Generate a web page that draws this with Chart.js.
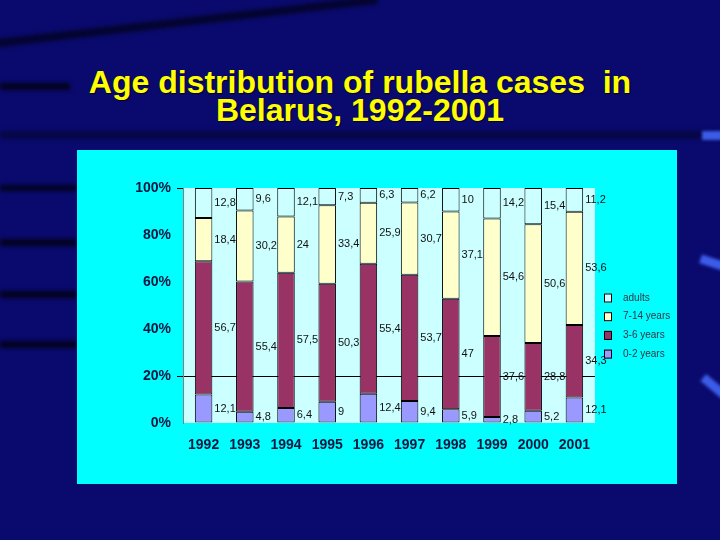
<!DOCTYPE html>
<html>
<head>
<meta charset="utf-8">
<script src="https://cdn.jsdelivr.net/npm/chart.js@4"></script>
<style>
  html, body { margin: 0; padding: 0; }
  body { width: 720px; height: 540px; background: #0a0a6e; position: relative; overflow: hidden; font-family: "Liberation Sans", Arial, sans-serif; }
  .stripe { position: absolute; background: #02021e; filter: blur(2px); }
  .blob { position: absolute; background: #3b5ce8; filter: blur(1.5px); }
  #title { position: absolute; left: 0; top: 68px; width: 720px; text-align: center; color: #ffff00; font-weight: bold; font-size: 32px; line-height: 28px; text-shadow: 1px 1px 1px #000030; }
  #panel { position: absolute; left: 77px; top: 150px; width: 600px; height: 334px; background: #00ffff; }
</style>
</head>
<body>
<div class="stripe" style="left:-10px; top:40px; width:390px; height:8px; transform: rotate(-6.5deg); transform-origin: left center; opacity:0.8"></div>
<div class="stripe" style="left:0; top:83px; width:70px; height:7px;"></div>
<div class="stripe" style="left:0; top:131px; width:720px; height:8px; opacity:0.5"></div>
<div class="stripe" style="left:0; top:185px; width:77px; height:6px;"></div>
<div class="stripe" style="left:0; top:239px; width:77px; height:7px;"></div>
<div class="stripe" style="left:0; top:291px; width:77px; height:7px;"></div>
<div class="stripe" style="left:0; top:341px; width:77px; height:7px;"></div>
<div class="blob" style="left:702px; top:131px; width:20px; height:9px;"></div>
<div class="blob" style="left:700px; top:258px; width:24px; height:9px; transform: rotate(18deg);"></div>
<div class="blob" style="left:700px; top:382px; width:28px; height:9px; transform: rotate(40deg);"></div>
<div id="title">Age distribution of rubella cases&nbsp; in<br>Belarus, 1992-2001</div>
<div id="panel"><canvas id="c" width="600" height="334"></canvas></div>
<script>
// ---- data ----
const categories = ['1992','1993','1994','1995','1996','1997','1998','1999','2000','2001'];
const seriesNames = ['0-2 years','3-6 years','7-14 years','adults'];
const age0to2   = [12.1, 4.8, 6.4, 9, 12.4, 9.4, 5.9, 2.8, 5.2, 12.1];
const age3to6   = [56.7, 55.4, 57.5, 50.3, 55.4, 53.7, 47, 37.6, 28.8, 34.3];
const age7to14  = [18.4, 30.2, 24, 33.4, 25.9, 30.7, 37.1, 54.6, 50.6, 53.6];
const adults    = [12.8, 9.6, 12.1, 7.3, 6.3, 6.2, 10, 14.2, 15.4, 11.2];
const yTickValues = [0, 20, 40, 60, 80, 100];

const rawSeries = [age0to2, age3to6, age7to14, adults];
const colors = ['#9999ff', '#993366', '#ffffcc', '#ccffff'];

// 100% stacked: each year's shares
const totals = categories.map((_, j) => rawSeries.reduce((s, arr) => s + arr[j], 0));
const pct = arr => arr.map((v, j) => v / totals[j] * 100);

const fmt = v => String(v).replace('.', ',');
const FONT = '"Liberation Sans", Arial, sans-serif';

const plotBg = {
  id: 'plotBg',
  beforeDraw(chart) {
    const { ctx, chartArea: a } = chart;
    ctx.save();
    ctx.fillStyle = '#ccffff';
    ctx.fillRect(a.left, a.top, a.right - a.left, a.bottom - a.top);
    ctx.restore();
  }
};

const valueLabels = {
  id: 'valueLabels',
  afterDatasetsDraw(chart) {
    const ctx = chart.ctx;
    ctx.save();
    ctx.font = '11px ' + FONT;
    ctx.fillStyle = '#111111';
    ctx.textAlign = 'left';
    ctx.textBaseline = 'middle';
    chart.data.datasets.forEach((ds, i) => {
      const meta = chart.getDatasetMeta(i);
      meta.data.forEach((bar, j) => {
        const p = bar.getProps(['x', 'y', 'base', 'width'], true);
        ctx.fillText(fmt(ds.rawValues[j]), p.x + p.width / 2 + 2, (p.y + p.base) / 2);
      });
    });
    ctx.restore();
  }
};

const sideLegend = {
  id: 'sideLegend',
  afterDraw(chart) {
    const { ctx, chartArea: a } = chart;
    const ds = chart.data.datasets.slice().reverse();
    ctx.save();
    ctx.font = '10px ' + FONT;
    ctx.textAlign = 'left';
    ctx.textBaseline = 'middle';
    ds.forEach((d, k) => {
      const cy = a.top + 110 + k * 18.7;
      const bx = a.right + 9;
      ctx.fillStyle = d.backgroundColor;
      ctx.fillRect(bx, cy - 4.5, 8, 9);
      ctx.strokeStyle = '#000';
      ctx.lineWidth = 1;
      ctx.strokeRect(bx + 0.5, cy - 4, 7, 8);
      ctx.fillStyle = '#333344';
      ctx.fillText(d.label, a.right + 28, cy);
    });
    ctx.restore();
  }
};

new Chart(document.getElementById('c'), {
  type: 'bar',
  data: {
    labels: categories,
    datasets: rawSeries.map((arr, i) => ({
      label: seriesNames[i],
      data: pct(arr),
      rawValues: arr,
      backgroundColor: colors[i],
      borderColor: '#000000',
      borderWidth: 1,
      borderSkipped: false,
      barPercentage: 0.85,
      categoryPercentage: 0.5
    }))
  },
  options: {
    responsive: false,
    animation: false,
    devicePixelRatio: 1,
    layout: { padding: { left: 46, right: 82, top: 38, bottom: 21 } },
    plugins: { legend: { display: false }, tooltip: { enabled: false }, title: { display: false } },
    scales: {
      x: {
        stacked: true,
        grid: { display: false, drawTicks: false },
        border: { display: false },
        ticks: { color: '#0b1640', font: { family: FONT, size: 14, weight: 'bold' }, padding: 14, maxRotation: 0 },
        afterFit: s => { s.height = 40; }
      },
      y: {
        stacked: true,
        min: 0,
        max: 100,
        afterBuildTicks: s => { s.ticks = yTickValues.map(v => ({ value: v })); },
        ticks: { color: '#0b1640', font: { family: FONT, size: 14, weight: 'bold' }, padding: 6, callback: v => v + '%' },
        grid: {
          color: c => (c.tick && c.tick.value === 20) ? '#000000' : 'rgba(0,0,0,0)',
          tickColor: c => (c.tick && (c.tick.value === 20 || c.tick.value === 100)) ? '#000000' : 'rgba(0,0,0,0)',
          tickLength: 6,
          lineWidth: 1
        },
        border: { color: '#808080', width: 1 },
        afterFit: s => { s.width = 60; }
      }
    }
  },
  plugins: [plotBg, valueLabels, sideLegend]
});
</script>
</body>
</html>
